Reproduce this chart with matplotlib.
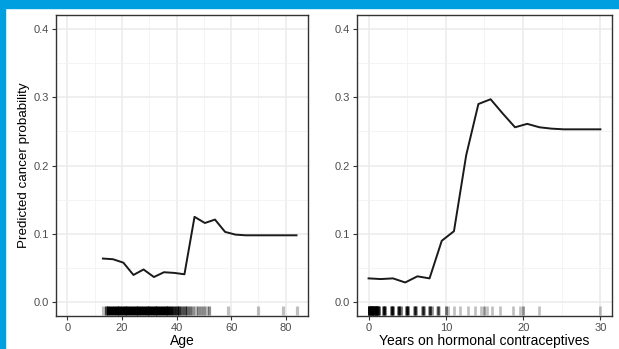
import numpy as np
import matplotlib.pyplot as plt
from matplotlib.patches import Rectangle

plt.rcParams['font.family'] = ['Liberation Sans', 'DejaVu Sans']

# partial dependence curve for Age
age_grid = [13.0, 16.7, 20.5, 24.2, 27.9, 31.7, 35.4, 39.2, 42.9, 46.6,
            50.4, 54.1, 57.8, 61.6, 65.3, 69.1, 72.8, 76.5, 80.3, 84.0]
age_pd = [0.064, 0.063, 0.058, 0.040, 0.048, 0.037, 0.044, 0.043, 0.041, 0.125,
          0.116, 0.121, 0.103, 0.099, 0.098, 0.098, 0.098, 0.098, 0.098, 0.098]

# partial dependence curve for years on hormonal contraceptives
hc_grid = [0.0, 1.58, 3.16, 4.74, 6.32, 7.89, 9.47, 11.05, 12.63, 14.21,
           15.79, 17.37, 18.95, 20.53, 22.11, 23.68, 25.26, 26.84, 28.42, 30.0]
hc_pd = [0.035, 0.034, 0.035, 0.029, 0.038, 0.035, 0.090, 0.104, 0.215, 0.290,
         0.297, 0.276, 0.256, 0.261, 0.256, 0.254, 0.253, 0.253, 0.253, 0.253]

# observed values for the rugs (value, count)
age_obs = [13, 14, 15, 16, 17, 18, 19, 20, 21, 22, 23, 24, 25, 26, 27, 28, 29,
           30, 31, 32, 33, 34, 35, 36, 37, 38, 39, 40, 41, 42, 43, 44, 45, 46,
           47, 48, 49, 50, 51, 52, 59, 70, 79, 84]
age_cnt = [1, 5, 20, 35, 35, 50, 40, 45, 40, 30, 55, 40, 45, 35, 40, 35, 40,
           35, 25, 25, 30, 25, 30, 25, 15, 12, 8, 7, 6, 4, 4, 3, 3, 2,
           1, 2, 2, 2, 1, 2, 1, 1, 1, 1]

hc_obs = [0, 0.1, 0.2, 0.3, 0.4, 0.5, 0.6, 0.7, 0.8, 0.9, 1.0, 1.1, 1.2, 1.3,
          1.85, 2, 2.15, 2.85, 3, 3.15, 3.85, 4, 4.15, 4.85, 5, 5.15,
          5.85, 6, 6.15, 6.85, 7, 7.15, 7.85, 8, 8.15, 8.85, 9, 9.15,
          10, 10.3, 11, 11.8, 12.9, 13.8, 14.6, 15, 15.3, 16, 17, 18.7, 19.6, 20, 22, 30]
hc_cnt = [60, 8, 8, 8, 8, 8, 8, 8, 8, 8, 20, 6, 6, 4,
          3, 15, 3, 3, 12, 3, 3, 10, 3, 3, 10, 3,
          2, 6, 2, 2, 5, 2, 2, 6, 2, 1, 4, 1,
          3, 1, 1, 1, 1, 1, 1, 2, 1, 1, 1, 1, 1, 2, 1, 1]

fig = plt.figure(figsize=(6.19, 3.49), dpi=100)
fig.patch.set_facecolor('white')

ax1 = fig.add_axes([0.0905, 0.0946, 0.407, 0.862])
ax2 = fig.add_axes([0.5767, 0.0946, 0.412, 0.862])

panels = [
    (ax1, age_grid, age_pd, age_obs, age_cnt, (-4.2, 88.2), [0, 20, 40, 60, 80], [10, 30, 50, 70], 'Age', 2.3),
    (ax2, hc_grid, hc_pd, hc_obs, hc_cnt, (-1.5, 31.5), [0, 10, 20, 30], [5, 15, 25], 'Years on hormonal contraceptives', 1.9),
]

for ax, gx, gy, obs, cnt, xlim, xt, xminor, xlab, rug_lw in panels:
    ax.set_xlim(*xlim)
    ax.set_ylim(-0.02, 0.42)
    ax.set_xticks(xt)
    ax.set_xticks(xminor, minor=True)
    ax.set_yticks([0.0, 0.1, 0.2, 0.3, 0.4])
    ax.set_yticks([0.05, 0.15, 0.25, 0.35], minor=True)
    ax.set_yticklabels(['0.0', '0.1', '0.2', '0.3', '0.4'])
    ax.grid(which='major', color='#ebebeb', lw=1.1)
    ax.grid(which='minor', color='#f2f2f2', lw=0.6)
    ax.set_axisbelow(True)
    for s in ax.spines.values():
        s.set_color('#333333')
        s.set_linewidth(1.0)
    ax.tick_params(which='major', length=3, width=0.8, color='#333333',
                   labelsize=8, labelcolor='#4d4d4d', pad=2)
    ax.tick_params(which='minor', length=0)

    # rug: alpha stacks with the number of observations
    a = 1 - (1 - 0.25) ** np.array(cnt)
    for v, al in zip(obs, a):
        ax.plot([v, v], [0.003, 0.032], color='black', alpha=al, lw=rug_lw,
                transform=ax.get_xaxis_transform(), solid_capstyle='butt')

    ax.plot(gx, gy, color='#1a1a1a', lw=1.4)
    ax.set_xlabel(xlab, fontsize=10, labelpad=1)

ax1.set_ylabel('Predicted cancer probability', fontsize=9.6, labelpad=3)

# frame strips
fig.patches.append(Rectangle((0, 1 - 8 / 349), 1, 8 / 349, transform=fig.transFigure,
                             color='#009fe0', zorder=10))
fig.patches.append(Rectangle((0, 0), 5 / 619, 1, transform=fig.transFigure,
                             color='#009fe0', zorder=10))

fig.savefig('out.png', dpi=100)
